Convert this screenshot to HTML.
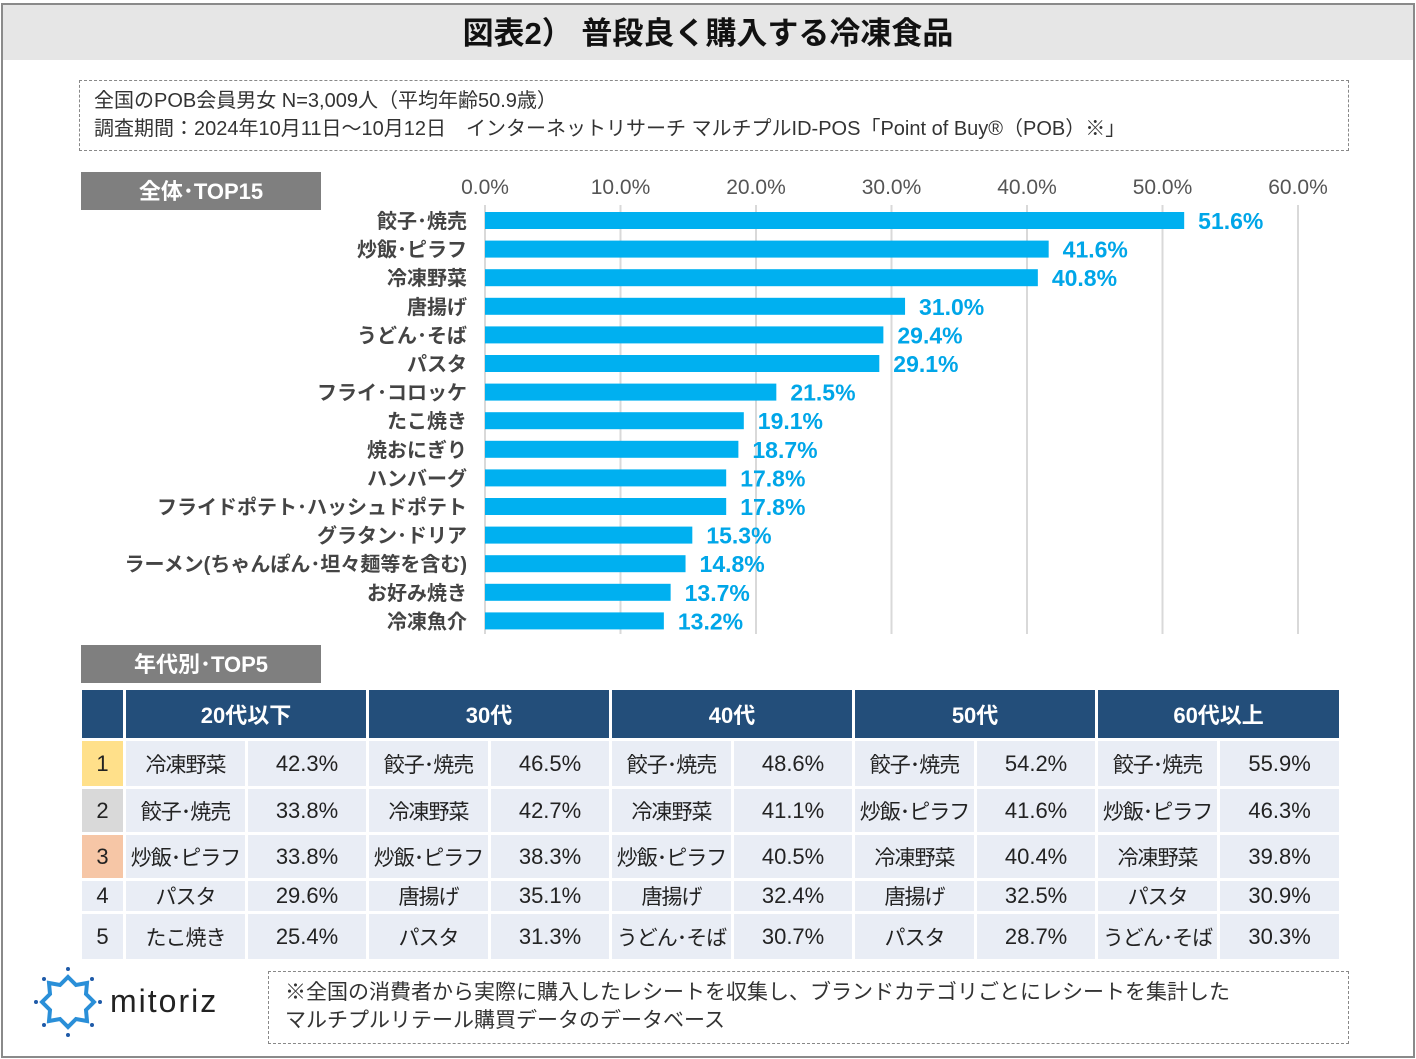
<!DOCTYPE html>
<html><head><meta charset="utf-8">
<style>
*{margin:0;padding:0;box-sizing:border-box}
body{width:1416px;height:1059px;background:#fff;position:relative;overflow:hidden;font-family:"Liberation Sans","Noto Sans CJK JP",sans-serif;color:#222}
.frame{position:absolute;left:1px;top:3px;width:1414px;height:1055px;border:2px solid #8a8a8a}
.title{position:absolute;left:3px;top:5px;width:1410px;height:55px;background:#e6e6e6;font-size:31px;font-weight:bold;text-align:center;line-height:58px;color:#111}
.info{position:absolute;left:79px;top:80px;width:1270px;height:71px;border:1.5px dashed #888;font-size:20px;line-height:28px;padding:6px 14px;color:#333}
.tag{position:absolute;background:#7f7f7f;color:#fff;font-weight:bold;font-size:22px;text-align:center}
table{position:absolute;left:79px;top:687px;width:1260px;height:271px;border-collapse:collapse;table-layout:fixed;font-size:22px;color:#222}
td,th{border:3px solid #fff;text-align:center;padding:0;background:#e9edf5;white-space:nowrap;overflow:hidden}
td.n{font-size:21px;letter-spacing:-1px}
th{background:#234e7a;color:#fff;font-size:22px;font-weight:bold}
.note{position:absolute;left:268px;top:971px;width:1081px;height:73px;border:1.5px dashed #888;font-size:21px;line-height:28px;padding:7px 16px;color:#333;background:#fff}
</style></head><body>
<div class="frame"></div>
<div class="title">図表2） 普段良く購入する冷凍食品</div>
<div class="info">全国のPOB会員男女 N=3,009人（平均年齢50.9歳）<br>調査期間：2024年10月11日～10月12日　インターネットリサーチ マルチプルID-POS「Point of Buy®（POB）※」</div>
<div class="tag" style="left:81px;top:172px;width:240px;height:38px;line-height:40px">全体･TOP15</div>
<svg id="chart" width="1416" height="650" style="position:absolute;left:0;top:0"></svg>
<div class="tag" style="left:81px;top:645px;width:240px;height:38px;line-height:40px">年代別･TOP5</div>
<table>
<colgroup><col style="width:44px"><col style="width:122px"><col style="width:121px"><col style="width:122px"><col style="width:121px"><col style="width:122px"><col style="width:121px"><col style="width:122px"><col style="width:121px"><col style="width:122px"><col style="width:122px"></colgroup>
<tr style="height:51px"><th></th><th colspan="2">20代以下</th><th colspan="2">30代</th><th colspan="2">40代</th><th colspan="2">50代</th><th colspan="2">60代以上</th></tr>
<tr style="height:48px"><td style="background:#ffe08a">1</td><td class="n">冷凍野菜</td><td>42.3%</td><td class="n">餃子･焼売</td><td>46.5%</td><td class="n">餃子･焼売</td><td>48.6%</td><td class="n">餃子･焼売</td><td>54.2%</td><td class="n">餃子･焼売</td><td>55.9%</td></tr>
<tr style="height:46px"><td style="background:#d9d9d9">2</td><td class="n">餃子･焼売</td><td>33.8%</td><td class="n">冷凍野菜</td><td>42.7%</td><td class="n">冷凍野菜</td><td>41.1%</td><td class="n">炒飯･ピラフ</td><td>41.6%</td><td class="n">炒飯･ピラフ</td><td>46.3%</td></tr>
<tr style="height:46px"><td style="background:#f6c6a6">3</td><td class="n">炒飯･ピラフ</td><td>33.8%</td><td class="n">炒飯･ピラフ</td><td>38.3%</td><td class="n">炒飯･ピラフ</td><td>40.5%</td><td class="n">冷凍野菜</td><td>40.4%</td><td class="n">冷凍野菜</td><td>39.8%</td></tr>
<tr style="height:32px"><td>4</td><td class="n">パスタ</td><td>29.6%</td><td class="n">唐揚げ</td><td>35.1%</td><td class="n">唐揚げ</td><td>32.4%</td><td class="n">唐揚げ</td><td>32.5%</td><td class="n">パスタ</td><td>30.9%</td></tr>
<tr style="height:48px"><td>5</td><td class="n">たこ焼き</td><td>25.4%</td><td class="n">パスタ</td><td>31.3%</td><td class="n">うどん･そば</td><td>30.7%</td><td class="n">パスタ</td><td>28.7%</td><td class="n">うどん･そば</td><td>30.3%</td></tr>
</table>
<svg width="230" height="80" style="position:absolute;left:32px;top:965px">
<path d="M36 12 L44 20 L55 18 L54 29 L62 37 L54 45 L55 56 L44 54 L36 62 L28 54 L17 56 L18 45 L10 37 L18 29 L17 18 L28 20 Z" fill="none" stroke="#2a8fd8" stroke-width="4"/>
<g fill="#1e5aa8"><circle cx="36" cy="4" r="2"/><circle cx="12" cy="14" r="2"/><circle cx="60" cy="14" r="2"/><circle cx="4" cy="37" r="2"/><circle cx="68" cy="37" r="2"/><circle cx="12" cy="60" r="2"/><circle cx="60" cy="60" r="2"/><circle cx="36" cy="70" r="2"/></g>
<text x="78" y="47" font-size="32" font-family="Liberation Sans, sans-serif" fill="#222" letter-spacing="2">mitoriz</text>
</svg>
<div class="note">※全国の消費者から実際に購入したレシートを収集し、ブランドカテゴリごとにレシートを集計した<br>マルチプルリテール購買データのデータベース</div>
<script>
const categories=["餃子･焼売","炒飯･ピラフ","冷凍野菜","唐揚げ","うどん･そば","パスタ","フライ･コロッケ","たこ焼き","焼おにぎり","ハンバーグ","フライドポテト･ハッシュドポテト","グラタン･ドリア","ラーメン(ちゃんぽん･坦々麺等を含む)","お好み焼き","冷凍魚介"];
const values=[51.6,41.6,40.8,31.0,29.4,29.1,21.5,19.1,18.7,17.8,17.8,15.3,14.8,13.7,13.2];
const ticks=[0,10,20,30,40,50,60];
const svg=document.getElementById('chart');
const NS='http://www.w3.org/2000/svg';
const x=v=>485+v*13.55;
const y=i=>212+i*28.6;
function mk(t,a){const e=document.createElementNS(NS,t);for(const k in a)e.setAttribute(k,a[k]);svg.appendChild(e);return e;}
ticks.forEach(t=>{
  const l=mk('line',{x1:x(t),x2:x(t),y1:205,y2:634,stroke:'#d9d9d9','stroke-width':2});
  
  
  const tx=mk('text',{x:x(t),y:194,'text-anchor':'middle','font-size':21,fill:'#555'});
  tx.textContent=t.toFixed(1)+'%';
  
  
});
categories.forEach((c,i)=>{
  const r=mk('rect',{x:x(0),y:y(i),width:x(values[i])-x(0),height:17,fill:'#00b0f0'});
  
  
  const lb=mk('text',{x:467,y:y(i)+16,'text-anchor':'end','font-size':20,'font-weight':'bold',fill:'#444'});
  lb.textContent=c;
  
  
  const v=mk('text',{x:x(values[i])+14,y:y(i)+17,'font-size':23,'font-weight':'bold',fill:'#00a6e8'});
  v.textContent=values[i].toFixed(1)+'%';
  
  
});
</script>
</body></html>
